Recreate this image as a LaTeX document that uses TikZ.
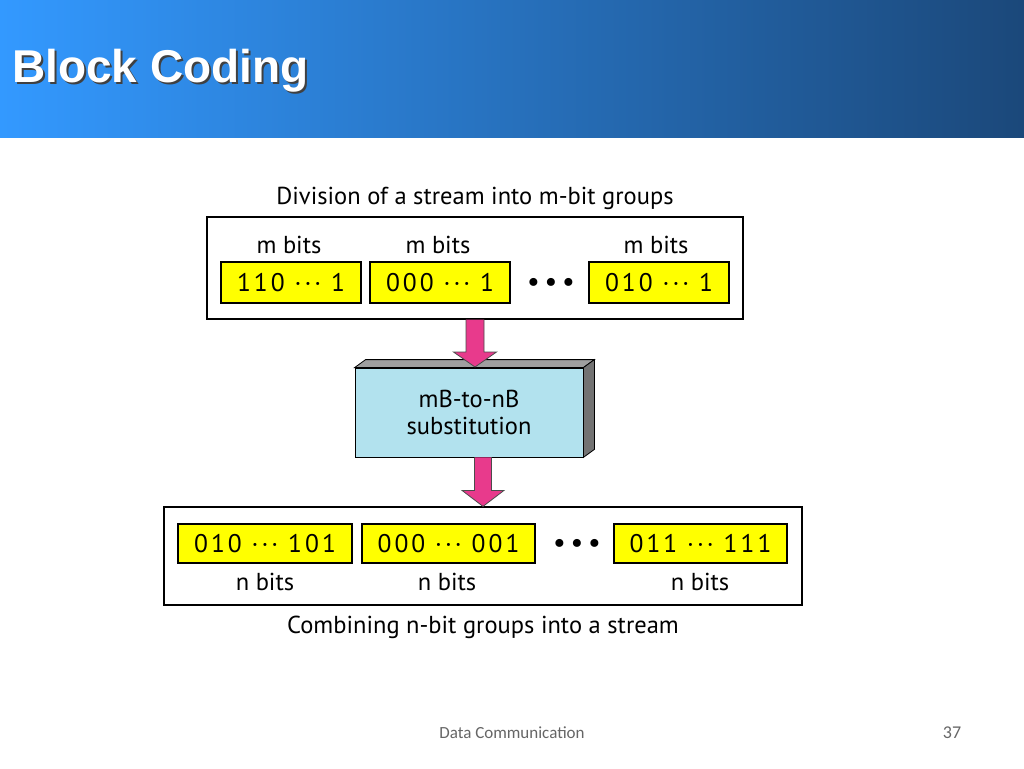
\documentclass[tikz,border=0pt]{standalone}
\usepackage{fontspec}
\setmainfont{PT Sans}
\newfontfamily\titlefont{Liberation Sans}
\newfontfamily\bitfont[LetterSpace=12]{PT Sans}
\newfontfamily\dotfont[LetterSpace=22]{PT Sans}
\newfontfamily\footfont{Carlito}
\usetikzlibrary{calc}
\definecolor{barL}{RGB}{51,153,255}
\definecolor{barR}{RGB}{27,72,122}
\definecolor{bitY}{RGB}{255,255,0}
\definecolor{subB}{RGB}{178,226,238}
\definecolor{arrM}{RGB}{232,58,140}
\tikzset{
  frame/.style={draw, line width=1.2pt, inner sep=0pt},
  bitbox/.style={draw, fill=bitY, line width=1.2pt, inner sep=0pt, font=\bitfont\fontsize{25.5}{28}\selectfont},
  lbl/.style={font=\fontsize{24.5}{28}\selectfont, inner sep=0pt},
  dots/.style={font=\dotfont\bfseries\fontsize{26}{28}\selectfont, inner sep=0pt},
  fatarrow/.style={fill=arrM, draw=black!70, line width=0.8pt, line join=miter},
  face/.style={draw=black, line width=0.8pt},
}
\begin{document}
\begin{tikzpicture}[x=1pt,y=-1pt]
\useasboundingbox (0,0) rectangle (1024,768);
\fill[white] (0,0) rectangle (1024,768);
\shade[left color=barL, right color=barR] (0,0) rectangle (1024,137);
\node[anchor=west, text=black!75, inner sep=0pt, font=\titlefont\bfseries\fontsize{46}{50}\selectfont] (titleshadow) at (14,73) {Block Coding};
\node[anchor=west, text=white, inner sep=0pt, font=\titlefont\bfseries\fontsize{46}{50}\selectfont] (title) at (12,71) {Block Coding};

% top caption and frame
\node[lbl] (topcap) at (475,198) {Division of a stream into m-bit groups};
\node[frame, minimum width=536pt, minimum height=102pt] (top) at (475,268) {};
\node[bitbox, minimum width=140pt, minimum height=41pt] (m1) at (291,282.5) {110 ··· 1};
\node[bitbox, minimum width=140pt, minimum height=41pt] (m2) at (440,282.5) {000 ··· 1};
\node[bitbox, minimum width=140pt, minimum height=41pt] (m3) at (659,282.5) {010 ··· 1};
\node[lbl] (ml1) at (289,245) {m bits};
\node[lbl] (ml2) at (438,245) {m bits};
\node[lbl] (ml3) at (656,245) {m bits};
\node[dots] (mdots) at (551,284) {•••};

% substitution box
\node[draw=black, line width=0.8pt, fill=subB, minimum width=228pt, minimum height=89pt, inner sep=0pt, align=center, font=\fontsize{24.5}{27}\selectfont] (sub) at (469,412.5) {mB-to-nB\\substitution};
\fill[gray!75, face] (sub.north west) -- ++(11,-8) -- ($(sub.north east)+(11,-8)$) -- (sub.north east) -- cycle;
\fill[black!55, face] (sub.north east) -- ++(11,-8) -- ($(sub.south east)+(11,-8)$) -- (sub.south east) -- cycle;

% bottom frame
\node[frame, minimum width=638pt, minimum height=98pt] (bot) at (483,556) {};
\node[bitbox, minimum width=174pt, minimum height=39pt] (n1) at (265,543.5) {010 ··· 101};
\node[bitbox, minimum width=173pt, minimum height=39pt] (n2) at (448.5,543.5) {000 ··· 001};
\node[bitbox, minimum width=173pt, minimum height=39pt] (n3) at (700.5,543.5) {011 ··· 111};
\node[lbl] (nl1) at (265,582) {n bits};
\node[lbl] (nl2) at (447,582) {n bits};
\node[lbl] (nl3) at (700,582) {n bits};
\node[dots] (ndots) at (577,545) {•••};
\node[lbl] (botcap) at (483,627) {Combining n-bit groups into a stream};

% fat arrows
\draw[fatarrow] let \p1=(top.south), \p2=($(sub.north)+(0,-0.6)$) in
  (\x1-9pt,\y1) -- (\x1-9pt,\y2+15pt) -- (\x1-21.5pt,\y2+15pt) -- (\x1,\y2)
  -- (\x1+21.5pt,\y2+15pt) -- (\x1+9pt,\y2+15pt) -- (\x1+9pt,\y1);
\draw[fatarrow] let \p1=(bot.north), \p2=(sub.south) in
  (\x1-8.5pt,\y2) -- (\x1-8.5pt,\y1+16pt) -- (\x1-21pt,\y1+16pt) -- (\x1,\y1)
  -- (\x1+21pt,\y1+16pt) -- (\x1+8.5pt,\y1+16pt) -- (\x1+8.5pt,\y2);

% footer
\node[text=black!60, inner sep=0pt, font=\footfont\fontsize{17}{20}\selectfont] (foot) at (512,733) {Data Communication};
\node[text=black!60, inner sep=0pt, font=\footfont\fontsize{18}{20}\selectfont] (page) at (952,733) {37};
\end{tikzpicture}
\end{document}
